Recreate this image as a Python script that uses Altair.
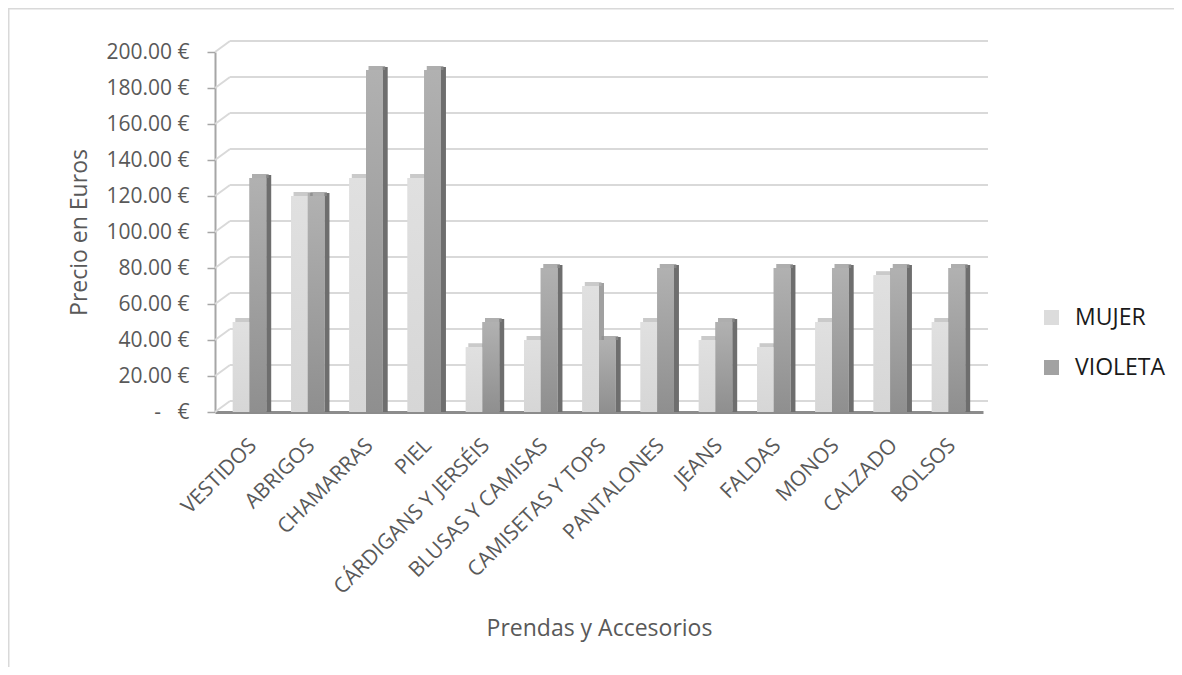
import altair as alt
import pandas as pd

categories = ["VESTIDOS", "ABRIGOS", "CHAMARRAS", "PIEL", "CÁRDIGANS Y JERSÉIS",
              "BLUSAS Y CAMISAS", "CAMISETAS Y TOPS", "PANTALONES", "JEANS",
              "FALDAS", "MONOS", "CALZADO", "BOLSOS"]
series_names = ["MUJER", "VIOLETA"]
mujer = [50, 120, 130, 130, 36, 40, 70, 50, 40, 36, 50, 76, 50]
violeta = [130, 120, 190, 190, 50, 80, 40, 80, 50, 80, 80, 80, 80]
y_ticks = [0, 20, 40, 60, 80, 100, 120, 140, 160, 180, 200]

rows = []
for c, m, v in zip(categories, mujer, violeta):
    rows.append({"cat": c, "serie": "MUJER", "precio": m})
    rows.append({"cat": c, "serie": "VIOLETA", "precio": v})
df = pd.DataFrame(rows)
grid_df = pd.DataFrame({"precio": y_ticks})
one_df = pd.DataFrame({"k": [0]})

W, H = 768, 360
PAD = {"left": 207, "top": 44, "right": 191, "bottom": 255}
BW = 16.7          # bar face width (px)
SIDE = 5           # 3D side depth (px)
TXT = "#595959"

x_axis = alt.Axis(title="Prendas y Accesorios", labelAngle=315,
                  labelAlign="right", labelBaseline="middle",
                  labelPadding=30, labelOffset=4, ticks=False,
                  domainColor="#8c8c8c", domainWidth=3,
                  labelFontSize=21, labelColor=TXT,
                  titleFontSize=23, titleColor=TXT,
                  titleFontWeight="normal", titlePadding=20,
                  labelLimit=400)
x_enc = alt.X("cat:N", sort=categories,
              scale=alt.Scale(paddingInner=0.427, paddingOuter=0.306),
              axis=x_axis)
y_scale = alt.Scale(domain=[0, 200], nice=False)
y_axis = alt.Axis(title="Precio en Euros", values=y_ticks, grid=False,
                  labelExpr="datum.value == 0 ? '-\u00a0\u00a0\u00a0€' : format(datum.value, '.2f') + ' €'",
                  domainColor="#a6a6a6", domainWidth=2,
                  tickColor="#a6a6a6", tickSize=8, tickWidth=1.5,
                  labelFontSize=21, labelColor=TXT, labelPadding=18,
                  titleFontSize=23, titleColor=TXT,
                  titleFontWeight="normal", titlePadding=14)
y_enc = alt.Y("precio:Q", scale=y_scale, axis=y_axis)

# chart-area frame (only top and left edges are visible in the reference)
fx0 = -PAD["left"]
fy0 = -PAD["top"]
frame_top = alt.Chart(one_df).mark_rect(color="#d9d9d9", strokeWidth=0).encode(
    x=alt.value(fx0), x2=alt.value(W + PAD["right"]),
    y=alt.value(fy0), y2=alt.value(fy0 + 1.5))
frame_left = alt.Chart(one_df).mark_rect(color="#d9d9d9", strokeWidth=0).encode(
    x=alt.value(fx0), x2=alt.value(fx0 + 1.5),
    y=alt.value(fy0), y2=alt.value(H + PAD["bottom"]))

# back wall gridlines (3D look)
grid_h = alt.Chart(grid_df).mark_rule(color="#d9d9d9", strokeWidth=2, yOffset=-11).encode(
    y=y_enc, x=alt.value(15), x2=alt.value(W + 5))
grid_d = alt.Chart(grid_df).mark_rule(color="#d9d9d9", strokeWidth=2, y2Offset=-11).encode(
    y=y_enc, y2=alt.Y2("precio:Q"), x=alt.value(0), x2=alt.value(15))

dfm = df[df.serie == "MUJER"]
dfv = df[df.serie == "VIOLETA"]

def side(d, off, color):
    return alt.Chart(d).mark_bar(width=SIDE, xOffset=off, yOffset=-3, color=color).encode(
        x=x_enc, y=y_enc, y2=alt.datum(0))

def top(d, off, color):
    return alt.Chart(d).mark_tick(size=BW, thickness=4, xOffset=off + SIDE / 2,
                                  yOffset=-2, color=color).encode(x=x_enc, y=y_enc)

color_enc = alt.Color("serie:N", sort=series_names,
                      scale=alt.Scale(domain=series_names, range=["#dcdcdc", "#a2a2a2"]),
                      legend=alt.Legend(title=None, orient="none", legendX=825, legendY=254,
                                        symbolType="square", symbolSize=225,
                                        symbolStrokeWidth=0, labelFontSize=23,
                                        labelColor="#1a1a1a", rowPadding=26,
                                        labelOffset=12))

def front_flat(d, off):
    return alt.Chart(d).mark_bar(width=BW, xOffset=off).encode(x=x_enc, y=y_enc, color=color_enc)

def front_grad(d, off, c0, c1):
    g = alt.Gradient(gradient="linear", x1=0, x2=0, y1=0, y2=1,
                     stops=[alt.GradientStop(offset=0, color=c0),
                            alt.GradientStop(offset=1, color=c1)])
    return alt.Chart(d).mark_bar(width=BW, xOffset=off, color=g).encode(x=x_enc, y=y_enc)

m_off = -BW / 2
v_off = BW / 2

layers = [
    frame_top, frame_left,
    grid_h, grid_d,
    side(dfm, m_off + BW / 2 + SIDE / 2, "#a0a0a0"),
    top(dfm, m_off, "#b3b3b3"),
    side(dfv, v_off + BW / 2 + SIDE / 2, "#6e6e6e"),
    top(dfv, v_off, "#8c8c8c"),
    front_flat(dfm, m_off), front_flat(dfv, v_off),
    front_grad(dfm, m_off, "#e0e0e0", "#d6d6d6"),
    front_grad(dfv, v_off, "#b1b1b1", "#8f8f8f"),
]

chart = alt.layer(*layers).properties(
    width=W, height=H,
    padding=PAD,
    autosize=alt.AutoSizeParams(type="none"),
).configure(font="Open Sans").configure_view(stroke=None)

chart.save("out.html", embed_options={"renderer": "svg", "actions": False})
